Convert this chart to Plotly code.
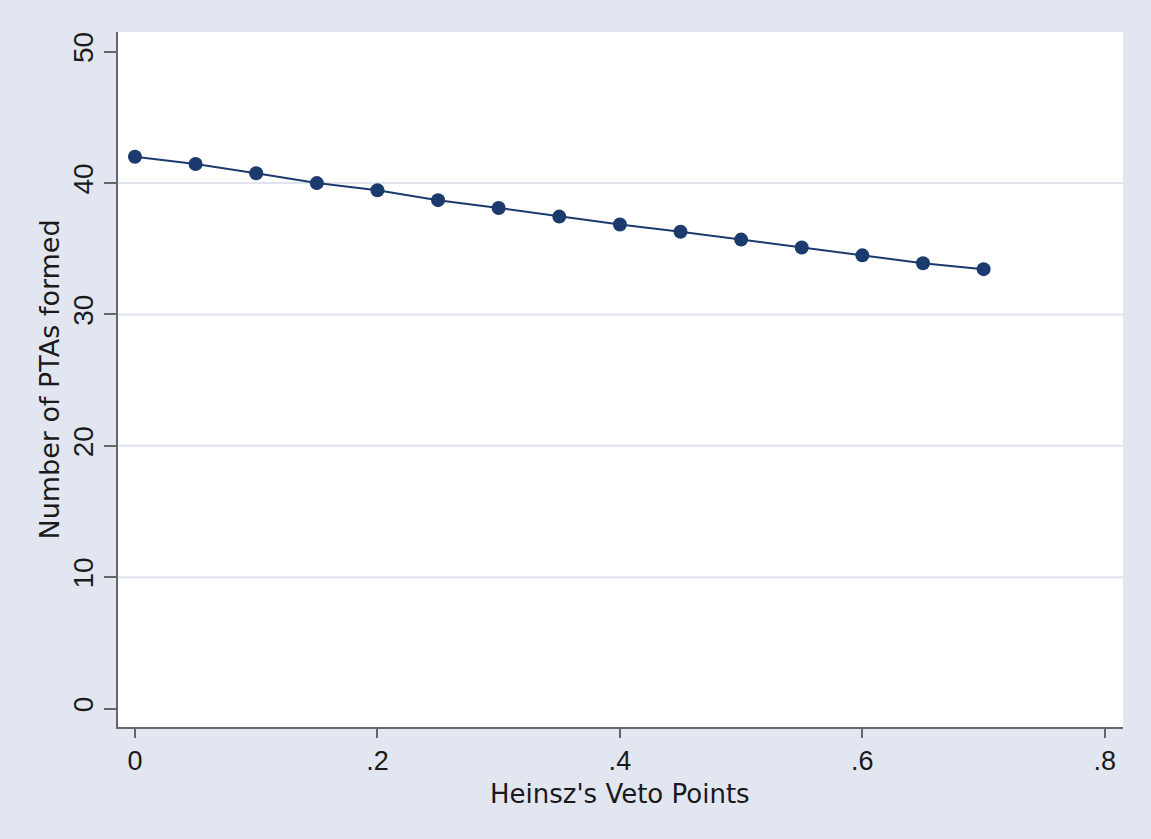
import plotly.graph_objects as go

veto_points = [0, 0.05, 0.1, 0.15, 0.2, 0.25, 0.3, 0.35, 0.4, 0.45, 0.5, 0.55, 0.6, 0.65, 0.7]
ptas_formed = [42.0, 41.45, 40.75, 40.0, 39.45, 38.7, 38.1, 37.45, 36.85, 36.3, 35.7, 35.1, 34.5, 33.9, 33.45]

x_ticks = [0, 0.2, 0.4, 0.6, 0.8]
x_tick_labels = ["0", ".2", ".4", ".6", ".8"]
y_ticks = [0, 10, 20, 30, 40, 50]
y_tick_labels = ["0", "10", "20", "30", "40", "50"]
y_grid = [10, 20, 30, 40]
x_title = "Heinsz's Veto Points"
y_title = "Number of PTAs formed"

NAVY = "#1b3a6e"
BG = "#e2e6f0"
AXIS = "#666666"

fig = go.Figure()
fig.add_trace(go.Scatter(
    x=veto_points, y=ptas_formed, mode="lines+markers",
    line=dict(color=NAVY, width=2),
    marker=dict(color=NAVY, size=14),
    showlegend=False,
))

for g in y_grid:
    fig.add_shape(type="line", xref="paper", yref="y", x0=0, x1=1, y0=g, y1=g,
                  line=dict(color="#e0e4ee", width=2), layer="below")

fig.add_annotation(text=x_title, xref="x", yref="paper", x=0.4, y=0,
                   yshift=-67, yanchor="middle", showarrow=False,
                   font=dict(family="DejaVu Sans, sans-serif", size=26, color="#1a1a1a"))

fig.update_layout(
    width=1151, height=839,
    paper_bgcolor=BG, plot_bgcolor="white",
    margin=dict(l=118, r=28, t=32, b=112),
    font=dict(family="Liberation Sans, Arial, sans-serif", color="#1a1a1a"),
    xaxis=dict(
        range=[-0.014, 0.815], tickvals=x_ticks, ticktext=x_tick_labels,
        showgrid=False, zeroline=False, showline=True, linecolor=AXIS, linewidth=2,
        ticks="outside", ticklen=9, tickwidth=2, tickcolor=AXIS,
        tickfont=dict(size=27),
    ),
    yaxis=dict(
        range=[-1.4, 51.5], tickvals=y_ticks, ticktext=y_tick_labels,
        showgrid=False, zeroline=False, showline=True, linecolor=AXIS, linewidth=2,
        ticks="outside", ticklen=12, tickwidth=2, tickcolor=AXIS,
        tickfont=dict(size=28), tickangle=-90,
        title=dict(text=y_title, standoff=0,
                   font=dict(family="DejaVu Sans, sans-serif", size=27)),
    ),
)

fig.write_html("out.html", config={"displayModeBar": False},
               post_script="document.body.style.margin='0';")
